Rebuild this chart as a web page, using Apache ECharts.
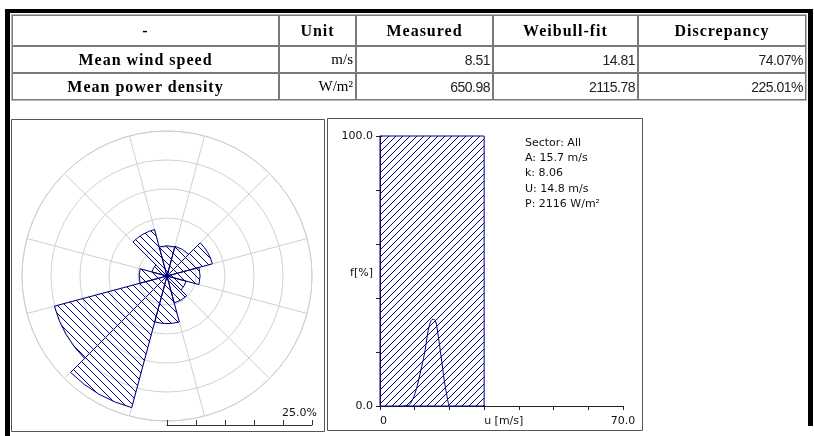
<!DOCTYPE html>
<html>
<head>
<meta charset="utf-8">
<script src="https://cdn.jsdelivr.net/npm/echarts@6/dist/echarts.min.js"></script>
<style>
  html, body { margin: 0; padding: 0; background: #fff; }
  #wrap { position: relative; width: 814px; height: 436px; overflow: hidden; }
  #chart { position: absolute; left: 0; top: 0; width: 814px; height: 436px; }
  #tbl { position: absolute; left: 11px; top: 14px; width: 795px; height: 86px;
         border-collapse: separate; border-spacing: 0; table-layout: fixed;
         border: 1px solid #b8b8b8; z-index: 2; }
  #tbl td { border: 1px solid #7a7a7a; padding: 0 2px; height: 25px; white-space: nowrap; overflow: hidden; }
  #tbl .h { font: bold 16px "Liberation Serif", serif; letter-spacing: 1px; text-align: center; }
  #tbl .u { font: 15px "Liberation Serif", serif; text-align: right; }
  #tbl .n { font: 14px "Liberation Sans", sans-serif; letter-spacing: -0.5px; text-align: right; color: #222; }
</style>
</head>
<body>
<div id="wrap">
  <div id="chart"></div>
  <table id="tbl"></table>
</div>
<script>
// table
var header = ['-', 'Unit', 'Measured', 'Weibull-fit', 'Discrepancy'];
var rowNames = ['Mean wind speed', 'Mean power density'];
var rowUnits = ['m/s', 'W/m²'];
var measured = ['8.51', '650.98'];
var weibullFit = ['14.81', '2115.78'];
var discrepancy = ['74.07%', '225.01%'];
var colWidths = [267, 77, 137, 145, 168];

// wind rose, 12 sectors, frequency in %
var sectors = ['0', '30', '60', '90', '120', '150', '180', '210', '240', '270', '300', '330'];
var sectorFreq = [5.2, 5.3, 8.1, 5.7, 3.4, 4.8, 8.2, 23.5, 20.1, 4.8, 2.7, 8.3];

// histogram bins [from, to, f%] and weibull curve
var bins = [[0, 30, 100]];
var curveU = [6.7, 8.2, 10.1, 12.0, 13.0, 13.9, 14.7, 15.3, 16.0, 16.8, 17.6, 18.5, 19.5, 19.9];
var curveF = [0, 0.2, 4.7, 14.6, 20.7, 28.1, 31.6, 32.1, 31.6, 25.7, 18.3, 9.6, 2.2, 0];
var statLines = ['Sector: All', 'A: 15.7 m/s', 'k: 8.06', 'U: 14.8 m/s', 'P: 2116 W/m²'];

var NAVY = '#000080';
var GRID = '#d0d0d0';
var FONT = '"DejaVu Sans", sans-serif';

// build the table
var tbl = document.getElementById('tbl');
var html = '<colgroup>' + colWidths.map(function (w) { return '<col style="width:' + w + 'px">'; }).join('') + '</colgroup>';
html += '<tr style="height:31px">' + header.map(function (h) { return '<td class="h">' + h + '</td>'; }).join('') + '</tr>';
for (var i = 0; i < rowNames.length; i++) {
  html += '<tr style="height:27px"><td class="h">' + rowNames[i] + '</td><td class="u">' + rowUnits[i] +
    '</td><td class="n">' + measured[i] + '</td><td class="n">' + weibullFit[i] +
    '</td><td class="n">' + discrepancy[i] + '</td></tr>';
}
tbl.innerHTML = html;

function hatch(size, forward) {
  var c = document.createElement('canvas');
  c.width = c.height = size;
  var g = c.getContext('2d');
  g.strokeStyle = NAVY;
  g.lineWidth = 1;
  g.beginPath();
  if (forward) {
    g.moveTo(-1, size + 1); g.lineTo(size + 1, -1);
    g.moveTo(-1, 1); g.lineTo(1, -1);
    g.moveTo(size - 1, size + 1); g.lineTo(size + 1, size - 1);
  } else {
    g.moveTo(-1, -1); g.lineTo(size + 1, size + 1);
    g.moveTo(size - 1, -1); g.lineTo(size + 1, 1);
    g.moveTo(-1, size - 1); g.lineTo(1, size + 1);
  }
  g.stroke();
  return c;
}
var roseFill = { image: hatch(8, false), repeat: 'repeat' };
var histFill = { image: hatch(7, true), repeat: 'repeat' };

var chart = echarts.init(document.getElementById('chart'), null, { renderer: 'canvas' });

var graphics = [
  { type: 'rect', shape: { x: 5, y: 9, width: 808, height: 4 }, style: { fill: '#000' } },
  { type: 'rect', shape: { x: 5, y: 9, width: 5, height: 427 }, style: { fill: '#000' } },
  { type: 'rect', shape: { x: 808, y: 9, width: 5, height: 417 }, style: { fill: '#000' } },
  { type: 'rect', shape: { x: 11.5, y: 119.5, width: 313, height: 312 }, style: { fill: 'none', stroke: '#555', lineWidth: 1 } },
  { type: 'rect', shape: { x: 327.5, y: 118.5, width: 315, height: 312 }, style: { fill: 'none', stroke: '#555', lineWidth: 1 } },
  { type: 'text', x: 373, y: 273, style: { text: 'f[%]', font: '11px ' + FONT, fill: '#111', align: 'right', verticalAlign: 'middle' } },
  { type: 'text', x: 317, y: 413, style: { text: '25.0%', font: '11px ' + FONT, fill: '#111', align: 'right', verticalAlign: 'middle' } }
];
statLines.forEach(function (s, i) {
  graphics.push({ type: 'text', x: 525, y: 143 + i * 15.3,
    style: { text: s, font: '11px ' + FONT, fill: '#111', verticalAlign: 'middle' } });
});

chart.setOption({
  animation: false,
  backgroundColor: '#fff',
  polar: { center: [167, 276], radius: 145 },
  angleAxis: {
    type: 'category',
    data: sectors,
    startAngle: 105,
    clockwise: true,
    boundaryGap: true,
    axisLine: { lineStyle: { color: GRID, width: 1 } },
    axisTick: { show: false },
    axisLabel: { show: false },
    splitLine: { show: true, lineStyle: { color: GRID, width: 1 } }
  },
  radiusAxis: {
    min: 0, max: 25, interval: 5,
    axisLine: { show: false },
    axisTick: { show: false },
    axisLabel: { show: false },
    splitLine: { show: true, lineStyle: { color: GRID, width: 1 } }
  },
  grid: [
    { left: 380, top: 136, width: 243, height: 270 },
    { left: 167, top: 400, width: 145, height: 25 }
  ],
  xAxis: [
    {
      gridIndex: 0, type: 'value', min: 0, max: 70, interval: 10,
      axisLine: { lineStyle: { color: '#222' } },
      axisTick: { length: 4, lineStyle: { color: '#222' } },
      splitLine: { show: false },
      axisLabel: {
        margin: 10, align: 'left', alignMaxLabel: 'center',
        fontFamily: FONT, fontSize: 11, color: '#111',
        formatter: function (v) { return v === 0 ? '0' : v === 30 ? 'u [m/s]' : v === 70 ? '70.0' : ''; }
      }
    },
    {
      gridIndex: 1, type: 'value', min: 0, max: 25, interval: 5,
      axisLine: { lineStyle: { color: '#333' } },
      axisTick: { inside: true, length: 5, lineStyle: { color: '#333' } },
      axisLabel: { show: false },
      splitLine: { show: false }
    }
  ],
  yAxis: [
    {
      gridIndex: 0, type: 'value', min: 0, max: 100, interval: 20,
      axisLine: { show: true, lineStyle: { color: '#222' } },
      axisTick: { show: true, length: 4, lineStyle: { color: '#222' } },
      splitLine: { show: false },
      axisLabel: {
        margin: 7, fontFamily: FONT, fontSize: 11, color: '#111',
        formatter: function (v) { return (v === 0 || v === 100) ? v.toFixed(1) : ''; }
      }
    },
    { gridIndex: 1, type: 'value', show: false }
  ],
  series: [
    {
      type: 'bar',
      coordinateSystem: 'polar',
      data: sectorFreq,
      barCategoryGap: '0%',
      itemStyle: { color: roseFill, borderColor: NAVY, borderWidth: 1 },
      silent: true
    },
    {
      type: 'custom',
      xAxisIndex: 0, yAxisIndex: 0,
      data: bins,
      encode: { x: [0, 1], y: 2 },
      renderItem: function (params, api) {
        var p0 = api.coord([api.value(0), api.value(2)]);
        var p1 = api.coord([api.value(1), 0]);
        return {
          type: 'rect',
          shape: { x: p0[0], y: p0[1], width: p1[0] - p0[0], height: p1[1] - p0[1] },
          style: { fill: histFill, stroke: NAVY, lineWidth: 1 }
        };
      },
      silent: true
    },
    {
      type: 'line',
      xAxisIndex: 0, yAxisIndex: 0,
      data: curveU.map(function (u, i) { return [u, curveF[i]]; }),
      smooth: 0.3,
      symbol: 'none',
      lineStyle: { color: NAVY, width: 1 },
      z: 5,
      silent: true
    }
  ],
  graphic: graphics
});
</script>
</body>
</html>
